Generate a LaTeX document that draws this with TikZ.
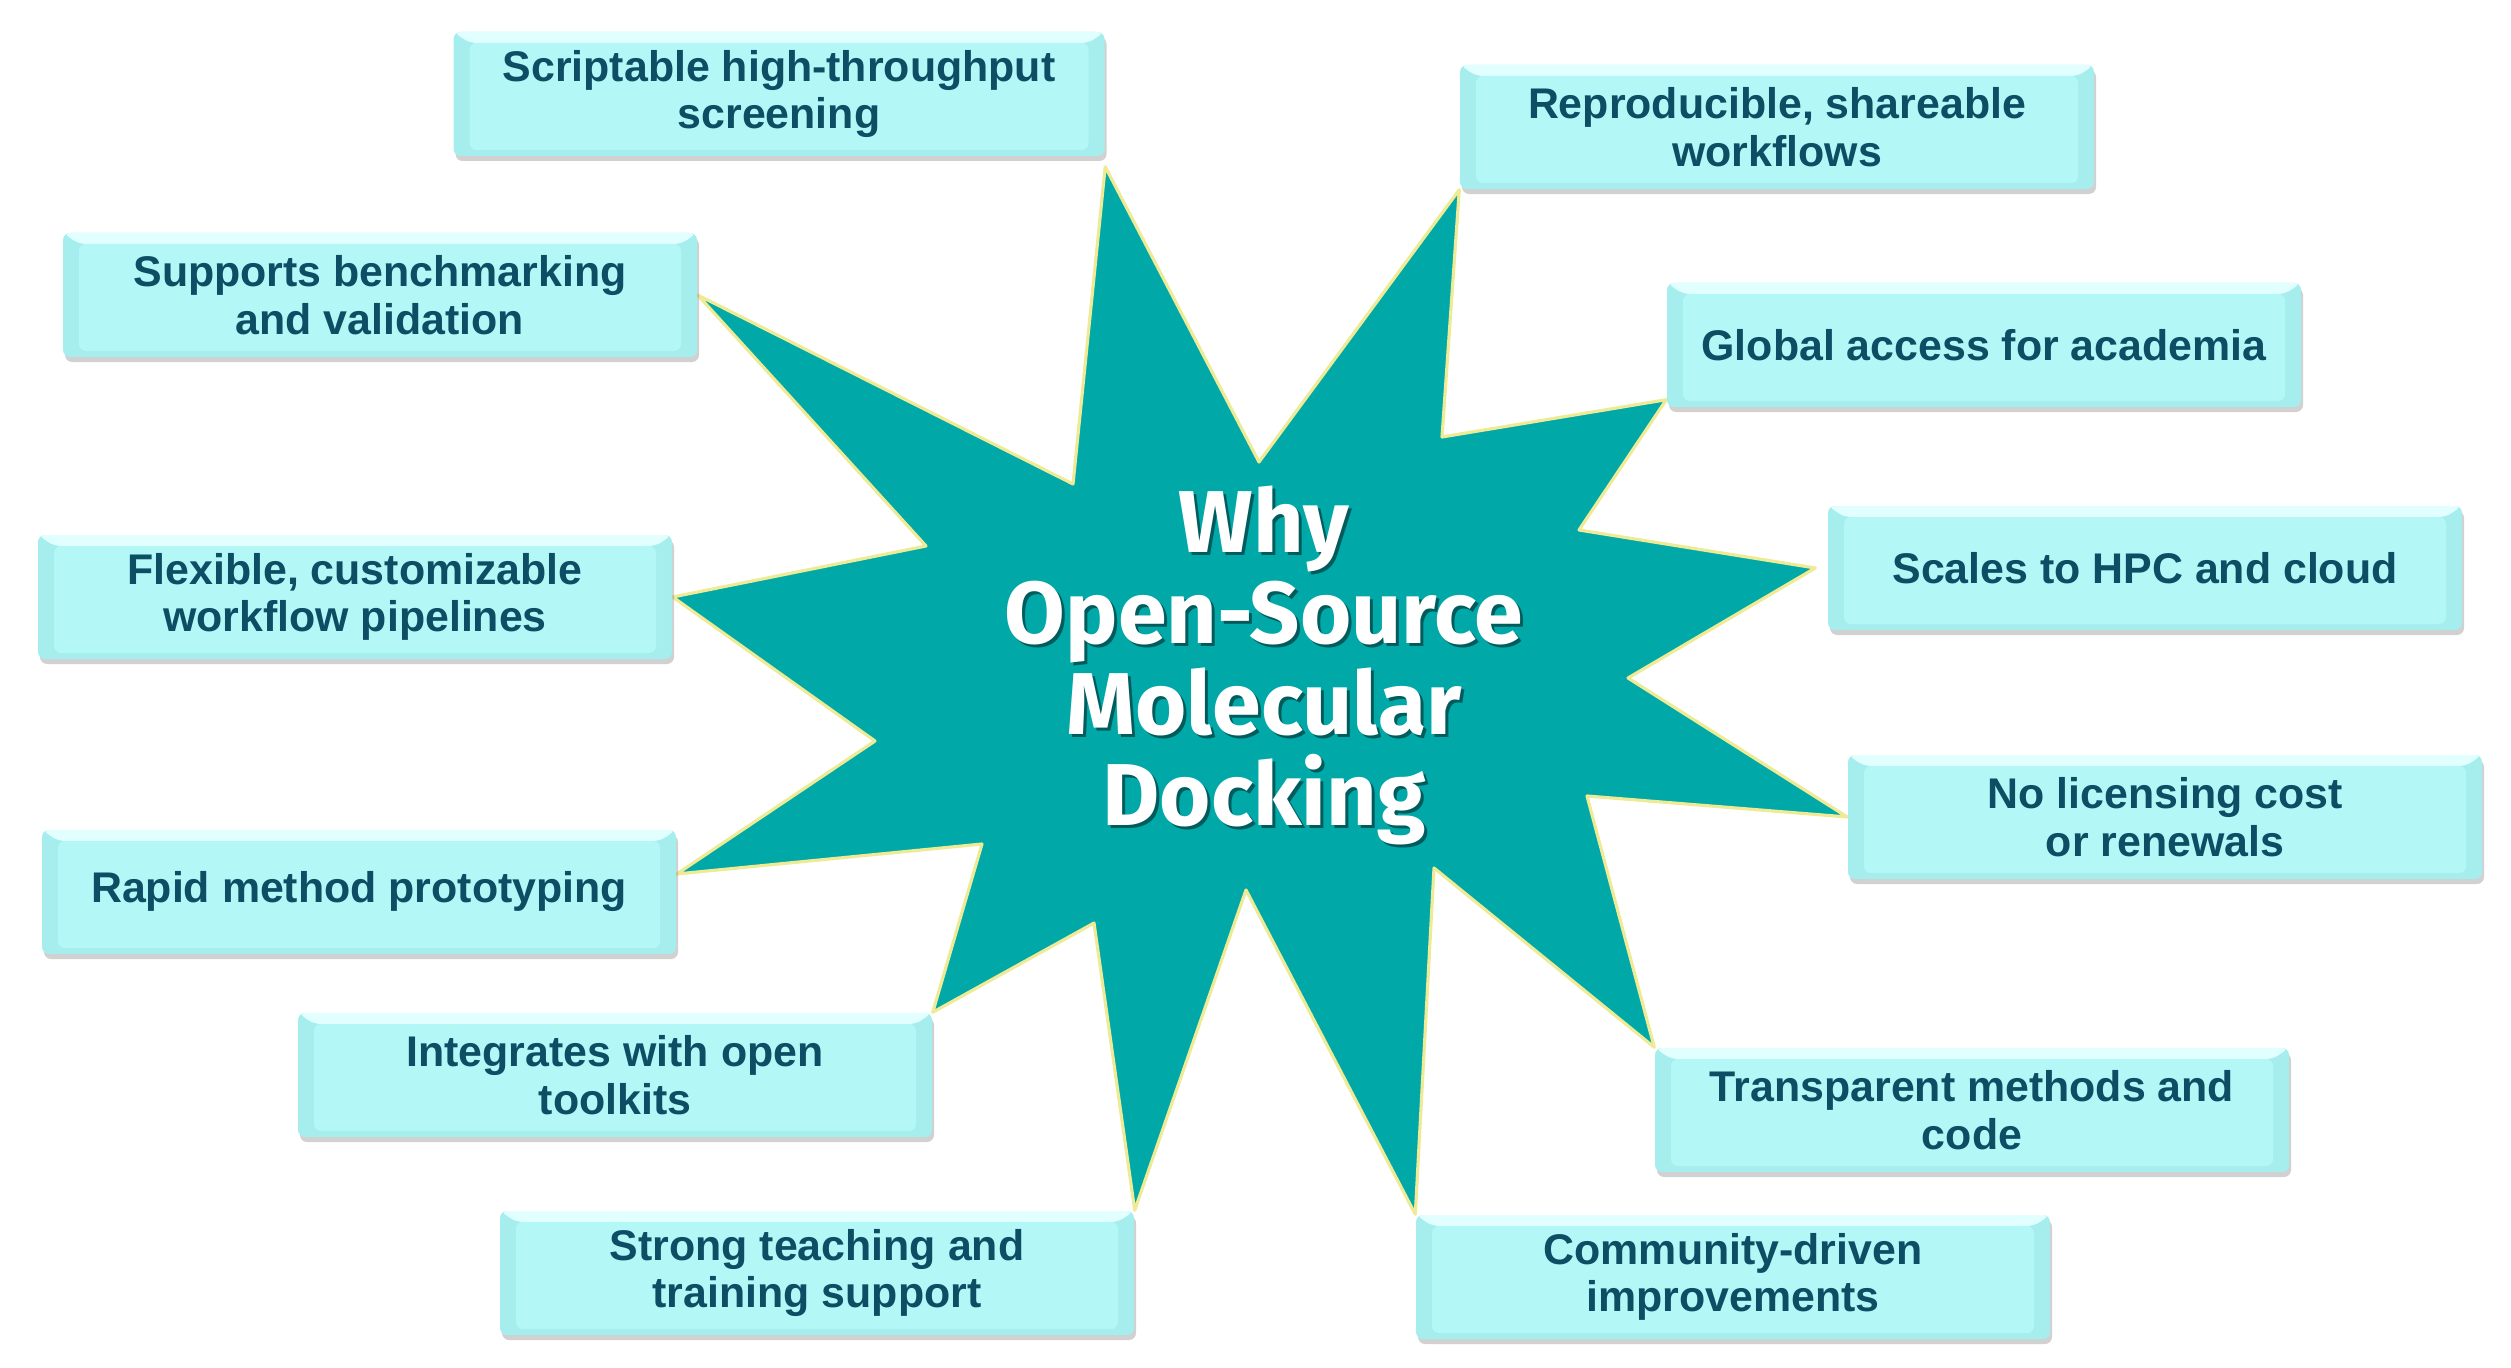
\documentclass[tikz,border=0pt]{standalone}
\usepackage{fontspec}
\setmainfont{Liberation Sans}
\newfontfamily\titlefont{Fira Sans}
\usetikzlibrary{shadows, backgrounds}

\definecolor{boxface}{RGB}{180,247,247}
\definecolor{boxtop}{RGB}{225,255,255}
\definecolor{boxside}{RGB}{166,238,238}
\definecolor{boxtext}{RGB}{12,78,100}
\definecolor{starteal}{RGB}{0,168,168}
\definecolor{staredge}{RGB}{238,234,150}

\begin{document}
\begin{tikzpicture}
    \tikzstyle{reason} = [rectangle, rounded corners=2pt, minimum width=6.34cm, minimum height=1.24cm, align=center, fill=boxside, text=boxtext, font=\bfseries\fontsize{12.2}{13.6}\selectfont, drop shadow={shadow xshift=0.02cm, shadow yshift=-0.05cm, opacity=0.3, fill=black!60},
        path picture={
            \fill[boxtop] (path picture bounding box.north west) -- (path picture bounding box.north east) -- ([shift={(-0.16,-0.11)}]path picture bounding box.north east) -- ([shift={(0.16,-0.11)}]path picture bounding box.north west) -- cycle;
            \fill[boxface] ([shift={(0.16,-0.11)}]path picture bounding box.north west) rectangle ([shift={(-0.16,0.06)}]path picture bounding box.south east);
        }]
    \tikzstyle{wide} = [minimum width=6.51cm]
    \tikzstyle{star} = [fill=starteal, draw=staredge, line width=0.9pt, line join=round]
    \tikzstyle{headline} = [text=white, align=center, font=\titlefont\bfseries\fontsize{25}{25.9}\selectfont]

    \useasboundingbox (0,0) rectangle (25.11,13.67);

    \node (screening) [reason, wide] at (7.79,12.73) {Scriptable high-throughput\\screening};
    \node (benchmark) [reason] at (3.80,10.72) {Supports benchmarking\\and validation};
    \node (pipelines) [reason] at (3.55,7.70) {Flexible, customizable\\workflow pipelines};
    \node (prototyping) [reason] at (3.59,4.75) {Rapid method prototyping};
    \node (toolkits) [reason] at (6.15,2.92) {Integrates with open\\toolkits};
    \node (teaching) [reason] at (8.17,0.94) {Strong teaching and\\training support};
    \node (workflows) [reason] at (17.77,12.40) {Reproducible, shareable\\workflows};
    \node (academia) [reason] at (19.84,10.22) {Global access for academia};
    \node (cloud) [reason] at (21.45,7.99) {Scales to HPC and cloud};
    \node (licensing) [reason] at (21.65,5.50) {No licensing cost\\or renewals};
    \node (transparency) [reason] at (19.72,2.57) {Transparent methods and\\code};
    \node (community) [reason] at (17.33,0.90) {Community-driven\\improvements};

    \begin{pgfonlayer}{background}
        \draw [star] ([yshift=-0.1cm]screening.south east) -- (12.59,9.05) -- (workflows.south west) -- (14.42,9.30)
            -- ([yshift=0.08cm]academia.south west) -- (15.79,8.37) -- ([xshift=-0.12cm]cloud.west) -- (16.28,6.89)
            -- (licensing.west) -- (15.87,5.71) -- (transparency.north west) -- (14.34,4.99)
            -- (community.north west) -- (12.46,4.77) -- (teaching.north east) -- (10.94,4.44)
            -- (toolkits.north east) -- (9.82,5.23) -- ([yshift=0.18cm]prototyping.east) -- (8.75,6.26)
            -- (pipelines.east) -- (9.26,8.21) -- (benchmark.east) -- (10.73,8.83) -- cycle;
    \end{pgfonlayer}

    \node (titleshade) [headline, text=black, opacity=0.45] at (12.67,6.99) {Why\\Open-Source\\Molecular\\Docking};
    \node (title) [headline] at (12.64,7.02) {Why\\Open-Source\\Molecular\\Docking};
\end{tikzpicture}
\end{document}
